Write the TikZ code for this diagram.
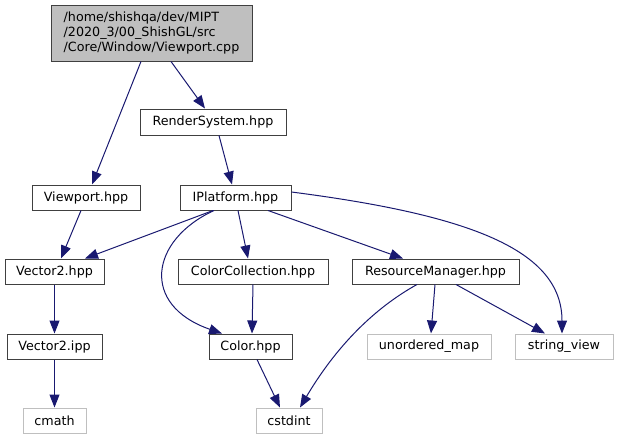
\documentclass[tikz,border=0pt]{standalone}
\usepackage{fontspec}
\setmainfont{DejaVu Sans}
\usetikzlibrary{arrows.meta}
\definecolor{edgec}{HTML}{191970}
\definecolor{darkb}{HTML}{404040}
\definecolor{lightb}{HTML}{BFBFBF}
\tikzset{
  x=1pt, y=-1pt,
  box/.style={draw=darkb, line width=1pt, fill=white, inner sep=0pt, minimum height=25pt,
    font=\fontsize{12.7}{15}\selectfont},
  sysbox/.style={box, draw=lightb},
  edge/.style={draw=edgec, line width=1pt, -{Triangle[length=13pt,width=10pt]}},
}
\begin{document}
\begin{tikzpicture}
\useasboundingbox (0,0) rectangle (618,440);
\node[box, fill=lightb, minimum width=201pt, minimum height=56pt, align=left] (cpp) at (151.5,33)
  {/home/shishqa/dev/MIPT\\/2020\_3/00\_ShishGL/src\\/Core/Window/Viewport.cpp};
\node[box, minimum width=146pt, minimum height=26pt] (render) at (213,122) {RenderSystem.hpp};
\node[box, minimum width=108pt] (vphpp) at (86,197.5) {Viewport.hpp};
\node[box, minimum width=111pt] (iplat) at (235.5,197.5) {IPlatform.hpp};
\node[box, minimum width=99pt] (vec2hpp) at (54.5,271.5) {Vector2.hpp};
\node[box, minimum width=150pt] (colcoll) at (253,271.5) {ColorCollection.hpp};
\node[box, minimum width=167pt] (resmgr) at (435.5,271.5) {ResourceManager.hpp};
\node[box, minimum width=95pt] (vec2ipp) at (54.5,346.5) {Vector2.ipp};
\node[box, minimum width=83pt] (color) at (250.5,346.5) {Color.hpp};
\node[sysbox, minimum width=124pt] (umap) at (429,346.5) {unordered\_map};
\node[sysbox, minimum width=98pt] (sview) at (564,346.5) {string\_view};
\node[sysbox, minimum width=63pt] (cmath) at (54.5,420.5) {cmath};
\node[sysbox, minimum width=66pt] (cstdint) at (289,420.5) {cstdint};

\draw[edge] ([xshift=-10.5pt]cpp.south) -- ([xshift=6pt]vphpp.north);
\draw[edge] ([xshift=19.5pt]cpp.south) -- ([xshift=-8pt]render.north);
\draw[edge] ([xshift=6pt]render.south) -- ([xshift=-3.5pt]iplat.north);
\draw[edge] ([xshift=-5pt]vphpp.south) -- ([xshift=6.5pt]vec2hpp.north);
\draw[edge] ([xshift=-22.5pt]iplat.south) -- ([xshift=30.5pt]vec2hpp.north);
\draw[edge] ([xshift=-21.5pt]iplat.south) .. controls (150,240) and (140,305) .. ([xshift=-28.5pt]color.north);
\draw[edge] ([xshift=2.5pt]iplat.south) -- ([xshift=-5pt]colcoll.north);
\draw[edge] ([xshift=32.5pt]iplat.south) -- ([xshift=-32.5pt]resmgr.north);
\draw[edge] ([yshift=5.5pt]iplat.east) .. controls (470,215) and (562,250) .. ([xshift=-2pt]sview.north);
\draw[edge] (colcoll.south) -- ([xshift=1.5pt]color.north);
\draw[edge] ([xshift=-18.5pt]resmgr.south) .. controls (380,305) and (340,340) .. ([xshift=11pt]cstdint.north);
\draw[edge] ([xshift=-0.5pt]resmgr.south) -- ([xshift=2pt]umap.north);
\draw[edge] ([xshift=20.5pt]resmgr.south) -- ([xshift=-19pt]sview.north);
\draw[edge] (vec2hpp.south) -- (vec2ipp.north);
\draw[edge] (vec2ipp.south) -- (cmath.north);
\draw[edge] ([xshift=6.5pt]color.south) -- ([xshift=-9pt]cstdint.north);
\end{tikzpicture}
\end{document}
